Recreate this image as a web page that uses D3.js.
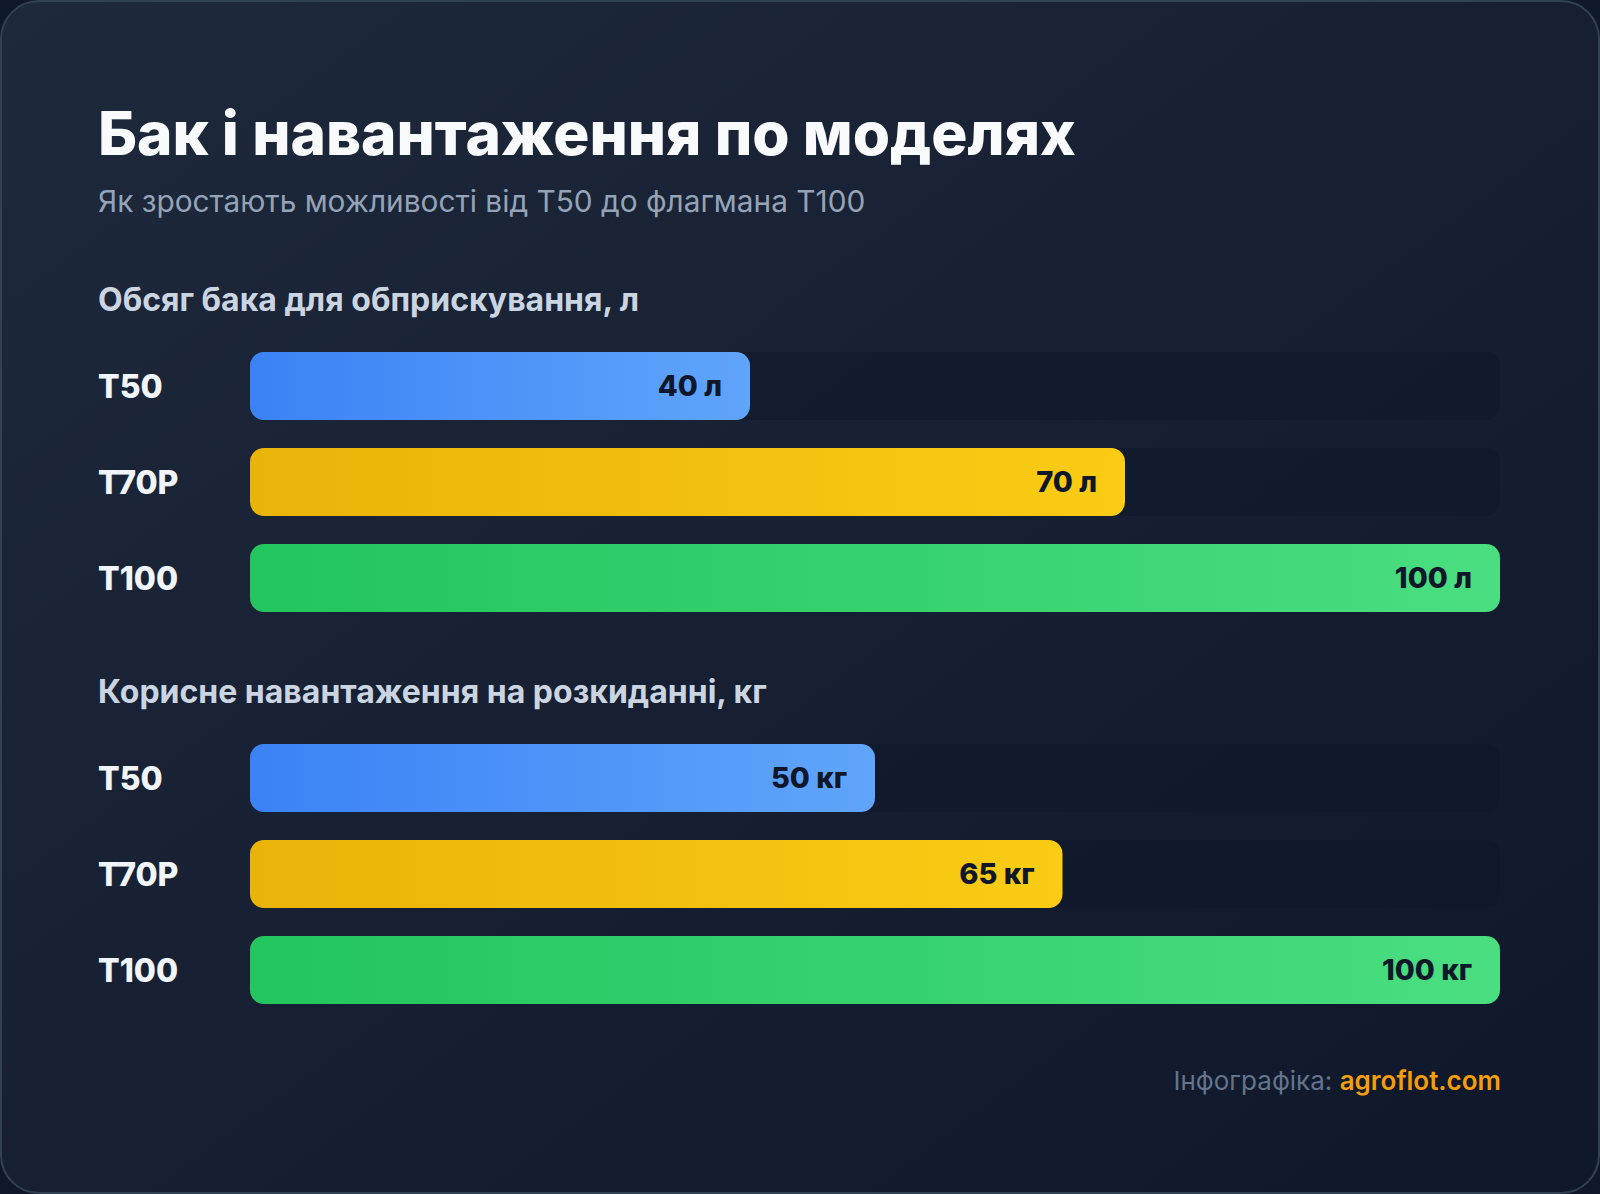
<!DOCTYPE html>
<html>
<head>
<meta charset="utf-8">
<script src="https://cdn.jsdelivr.net/npm/d3@7"></script>
<style>
  html, body { margin: 0; padding: 0; background: #0f172a; }
  body { width: 1600px; height: 1194px; overflow: hidden; font-family: Inter, "Noto Sans", sans-serif; }
  .card-frame { width: 1600px; height: 1194px; }
</style>
</head>
<body>
<div class="card-frame"></div>
<script>
// data
const models = ["T50", "T70P", "T100"]
const tankValues = [40, 70, 100]
const payloadValues = [50, 65, 100]
const sections = [
  { title: "Обсяг бака для обприскування, л", unit: "л", values: tankValues },
  { title: "Корисне навантаження на розкиданні, кг", unit: "кг", values: payloadValues }
]
const colors = [
  ["#3b82f6", "#60a5fa"],
  ["#eab308", "#facc15"],
  ["#22c55e", "#4ade80"]
]

function drawViz() {
  const width = 1600
  const height = 1194
  const svg = d3.select(".card-frame")
    .append("svg")
    .attr("width", width)
    .attr("height", height)

  const defs = svg.append("defs")
  const cardGrad = defs.append("linearGradient")
    .attr("id", "card-bg")
    .attr("x1", "0%").attr("y1", "0%")
    .attr("x2", "100%").attr("y2", "100%")
  cardGrad.append("stop").attr("offset", "0%").attr("stop-color", "#1e293b")
  cardGrad.append("stop").attr("offset", "100%").attr("stop-color", "#0f172a")

  colors.forEach((c, i) => {
    const g = defs.append("linearGradient")
      .attr("id", `bar-grad-${i}`)
      .attr("x1", "0%").attr("x2", "100%")
      .attr("y1", "0%").attr("y2", "0%")
    g.append("stop").attr("offset", "0%").attr("stop-color", c[0])
    g.append("stop").attr("offset", "100%").attr("stop-color", c[1])
  })

  // card
  svg.append("rect")
    .attr("x", 1).attr("y", 1)
    .attr("width", width - 2).attr("height", height - 2)
    .attr("rx", 38)
    .attr("fill", "url(#card-bg)")
    .attr("stroke", "#334155")
    .attr("stroke-width", 2)

  const margin = { left: 98, right: 100 }

  svg.append("text")
    .attr("x", margin.left).attr("y", 155)
    .attr("fill", "#f8fafc")
    .attr("font-size", 60.3)
    .attr("font-weight", 800)
    .text("Бак і навантаження по моделях")

  svg.append("text")
    .attr("x", margin.left).attr("y", 212)
    .attr("fill", "#94a3b8")
    .attr("font-size", 29.8)
    .text("Як зростають можливості від T50 до флагмана T100")

  const xScale = d3.scaleLinear([0, 100], [250, 1500])
  // step 96, bar 68
  const yScale = d3.scaleBand(models, [0, 260]).paddingInner(28 / 96).paddingOuter(0)
  const barR = 14

  const sectionTop = [352, 744]

  sections.forEach((sec, si) => {
    const g = svg.append("g").attr("transform", `translate(0,${sectionTop[si]})`)

    g.append("text")
      .attr("x", margin.left).attr("y", -41)
      .attr("fill", "#cbd5e1")
      .attr("font-size", 32)
      .attr("font-weight", 700)
      .text(sec.title)

    const rows = g.selectAll("g.row")
      .data(models.map((m, i) => ({ model: m, value: sec.values[i], idx: i })))
      .join("g")
        .attr("class", "row")
        .attr("transform", d => `translate(0,${yScale(d.model)})`)

    rows.append("rect")
      .attr("class", "track")
      .attr("x", xScale(0))
      .attr("width", xScale(100) - xScale(0))
      .attr("height", yScale.bandwidth())
      .attr("rx", barR)
      .attr("fill", "#0f172a")
      .attr("fill-opacity", 0.55)

    rows.append("rect")
      .attr("class", "bar")
      .attr("x", xScale(0))
      .attr("width", d => xScale(d.value) - xScale(0))
      .attr("height", yScale.bandwidth())
      .attr("rx", barR)
      .attr("fill", d => `url(#bar-grad-${d.idx})`)

    rows.append("text")
      .attr("x", margin.left)
      .attr("y", yScale.bandwidth() / 2)
      .attr("dy", "0.36em")
      .attr("fill", "#f1f5f9")
      .attr("font-size", 32)
      .attr("font-weight", 800)
      .text(d => d.model)

    rows.append("text")
      .attr("x", d => xScale(d.value) - 28)
      .attr("y", yScale.bandwidth() / 2)
      .attr("dy", "0.36em")
      .attr("text-anchor", "end")
      .attr("fill", "#0f172a")
      .attr("font-size", 29)
      .attr("font-weight", 800)
      .text(d => `${d.value} ${sec.unit}`)
  })

  const footer = svg.append("text")
    .attr("x", 1501).attr("y", 1090)
    .attr("text-anchor", "end")
    .attr("font-size", 26)
  footer.append("tspan").attr("fill", "#64748b").text("Інфографіка: ")
  footer.append("tspan").attr("fill", "#f59e0b").attr("font-weight", 600).text("agroflot.com")
}

drawViz()
</script>
</body>
</html>
